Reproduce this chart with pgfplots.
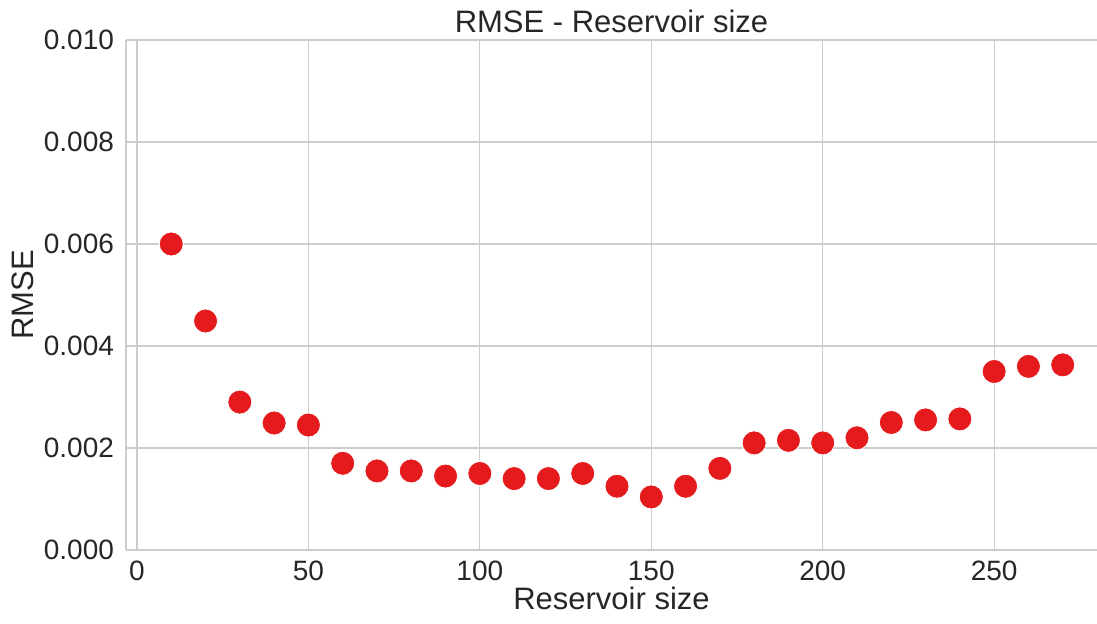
\documentclass[border=0pt]{standalone}
\usepackage{pgfplots}
\pgfplotsset{compat=1.18}
\usepackage{fontspec}
\setmainfont{Liberation Sans}
\definecolor{txt}{HTML}{262626}
\definecolor{grd}{HTML}{CCCCCC}
\definecolor{dotred}{HTML}{E41A1C}
\begin{document}
\begin{tikzpicture}
\begin{axis}[
  name=ax, at={(0,0)}, anchor=south west,
  scale only axis, width=485.5pt, height=255pt,
  xmin=-3.2, xmax=280, ymin=0, ymax=0.010,
  axis x line*=bottom, axis y line*=left,
  axis line style={grd, line width=0.6pt},
  x axis line style={-}, y axis line style={-},
  xtick={0,50,100,150,200,250},
  ytick={0,0.002,0.004,0.006,0.008,0.010},
  yticklabel style={/pgf/number format/fixed, /pgf/number format/fixed zerofill, /pgf/number format/precision=3},
  scaled y ticks=false,
  /pgf/number format/assume math mode=true,
  major tick length=0pt,
  grid=major, major grid style={grd, line width=0.6pt},
  tick label style={font=\fontsize{14}{16}\selectfont, text=txt},
  xticklabel style={yshift=-2pt},
  yticklabel style={xshift=-2.5pt},
  xlabel={Reservoir size}, ylabel={RMSE},
  label style={font=\fontsize{15.5}{18}\selectfont, text=txt},
  xlabel style={yshift=4pt},
  ylabel style={yshift=-2pt},
  title={RMSE - Reservoir size},
  title style={font=\fontsize{15.5}{18}\selectfont, text=txt, yshift=-6pt},
  clip=false,
]
\addplot[only marks, mark=*, mark size=6pt, mark options={fill=dotred, draw=white, line width=0.4pt}]
coordinates {
(10,0.0060) (20,0.00449) (30,0.0029) (40,0.00249) (50,0.00245)
(60,0.0017) (70,0.00155) (80,0.00155) (90,0.00145) (100,0.0015)
(110,0.0014) (120,0.0014) (130,0.0015) (140,0.00125) (150,0.00104)
(160,0.00125) (170,0.0016) (180,0.0021) (190,0.00215) (200,0.0021)
(210,0.0022) (220,0.0025) (230,0.00255) (240,0.00257) (250,0.0035)
(260,0.0036) (270,0.00363)
};
\end{axis}
\pgfresetboundingbox
\path ([xshift=-63pt,yshift=-37pt]ax.south west) rectangle ([yshift=20pt]ax.north east);
\end{tikzpicture}
\end{document}
